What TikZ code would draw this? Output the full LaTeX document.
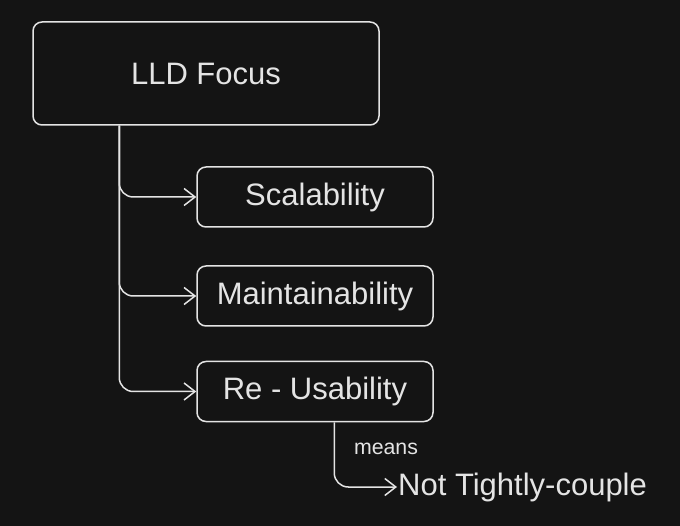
\documentclass[tikz,border=0pt]{standalone}
\usepackage{fontspec}
\setmainfont{Liberation Sans}
\usetikzlibrary{arrows.meta}
\definecolor{canvas}{RGB}{20,20,20}
\definecolor{ink}{RGB}{228,228,228}

\begin{document}
\begin{tikzpicture}[x=1pt,y=-1pt,
  box/.style={draw=ink, line width=1.5pt, rounded corners=9pt, text=ink,
    font=\fontsize{31}{36}\selectfont, minimum width=236pt, minimum height=60pt},
  arr/.style={draw=ink, line width=1.5pt, rounded corners=14pt,
    -{Straight Barb[length=11pt,width=17pt]}}]
\fill[canvas] (0,0) rectangle (680,526);
\useasboundingbox (0,0) rectangle (680,526);
% top box
\node[box, minimum width=346pt, minimum height=103pt] (lld) at (206,73.5) {LLD Focus};
% the three goals
\node[box] (scal) at (315,197) {Scalability};
\node[box] (maint) at (315,296) {Maintainability};
\node[box] (reuse) at (315,391.5) {Re - Usability};
\draw[arr] ([xshift=87pt]lld.south west) |- (scal.west);
\draw[arr] ([xshift=87pt]lld.south west) |- (maint.west);
\draw[arr] ([xshift=87pt]lld.south west) |- (reuse.west);
% what re-usability means
\node[text=ink, font=\fontsize{21.3}{25}\selectfont] (means) at (386,449) {means};
\node[anchor=west, inner sep=1pt, text=ink, font=\fontsize{31}{36}\selectfont] (notc) at (397,487) {Not Tightly-couple};
\draw[arr] ([xshift=138pt]reuse.south west) |- (notc.west);
\end{tikzpicture}
\end{document}
